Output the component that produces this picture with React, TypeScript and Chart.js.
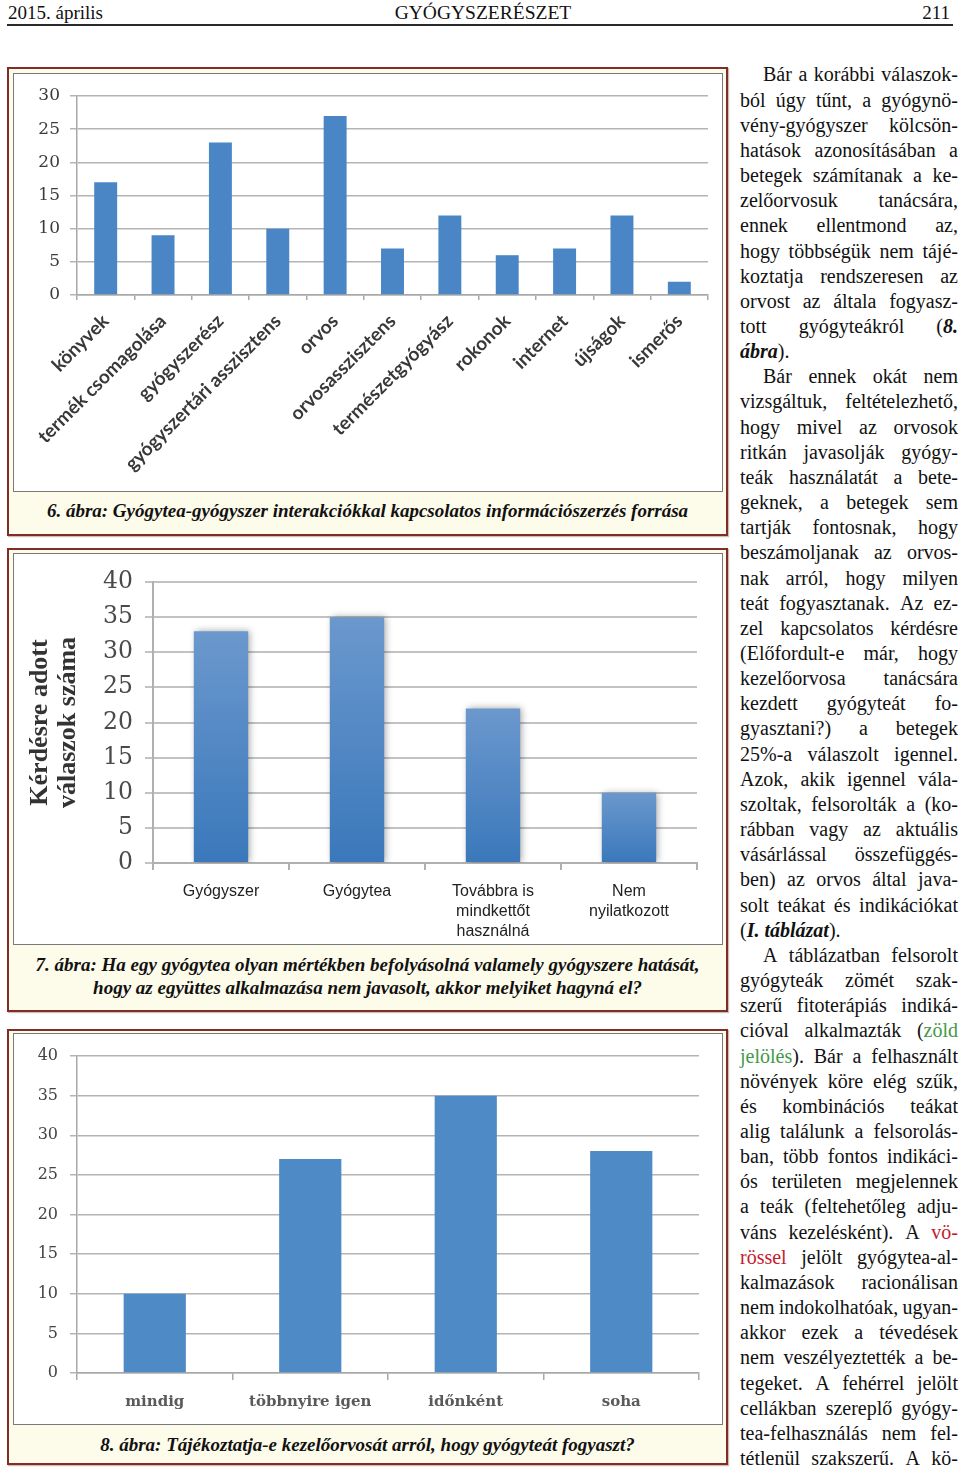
import React, { useEffect, useRef } from 'react';
import { Chart, registerables } from 'chart.js';
Chart.register(...registerables);

// ---------------- Data ----------------
const fig6Categories = [
  'könyvek',
  'termék csomagolása',
  'gyógyszerész',
  'gyógyszertári asszisztens',
  'orvos',
  'orvosasszisztens',
  'természetgyógyász',
  'rokonok',
  'internet',
  'újságok',
  'ismerős',
];
const fig6Values = [17, 9, 23, 10, 27, 7, 12, 6, 7, 12, 2];
const fig6Max = 30;
const fig6Step = 5;

const fig7Categories = [
  ['Gyógyszer'],
  ['Gyógytea'],
  ['Továbbra is', 'mindkettőt', 'használná'],
  ['Nem', 'nyilatkozott'],
];
const fig7Values = [33, 35, 22, 10];
const fig7Max = 40;
const fig7Step = 5;
const fig7AxisTitle = ['Kérdésre adott', 'válaszok száma'];

const fig8Categories = ['mindig', 'többnyire igen', 'időnként', 'soha'];
const fig8Values = [10, 27, 35, 28];
const fig8Max = 40;
const fig8Step = 5;

const headerLeft = '2015. április';
const headerCenter = 'GYÓGYSZERÉSZET';
const headerRight = '211';

const caption6 = ['6. ábra: Gyógytea-gyógyszer interakciókkal kapcsolatos információszerzés forrása'];
const caption7 = [
  '7. ábra: Ha egy gyógytea olyan mértékben befolyásolná valamely gyógyszere hatását,',
  'hogy az együttes alkalmazása nem javasolt, akkor melyiket hagyná el?',
];
const caption8 = ['8. ábra: Tájékoztatja-e kezelőorvosát arról, hogy gyógyteát fogyaszt?'];

type BodyLine = { t: string; indent?: boolean; end?: boolean };
const bodyLines: BodyLine[] = [
  { t: 'Bár a korábbi válaszok-', indent: true },
  { t: 'ból úgy tűnt, a gyógynö-' },
  { t: 'vény-gyógyszer kölcsön-' },
  { t: 'hatások azonosításában a' },
  { t: 'betegek számítanak a ke-' },
  { t: 'zelőorvosuk tanácsára,' },
  { t: 'ennek ellentmond az,' },
  { t: 'hogy többségük nem tájé-' },
  { t: 'koztatja rendszeresen az' },
  { t: 'orvost az általa fogyasz-' },
  { t: 'tott gyógyteákról ([b:8.]' },
  { t: '[b:ábra]).', end: true },
  { t: 'Bár ennek okát nem', indent: true },
  { t: 'vizsgáltuk, feltételezhető,' },
  { t: 'hogy mivel az orvosok' },
  { t: 'ritkán javasolják gyógy-' },
  { t: 'teák használatát a bete-' },
  { t: 'geknek, a betegek sem' },
  { t: 'tartják fontosnak, hogy' },
  { t: 'beszámoljanak az orvos-' },
  { t: 'nak arról, hogy milyen' },
  { t: 'teát fogyasztanak. Az ez-' },
  { t: 'zel kapcsolatos kérdésre' },
  { t: '(Előfordult-e már, hogy' },
  { t: 'kezelőorvosa tanácsára' },
  { t: 'kezdett gyógyteát fo-' },
  { t: 'gyasztani?) a betegek' },
  { t: '25%-a válaszolt igennel.' },
  { t: 'Azok, akik igennel vála-' },
  { t: 'szoltak, felsorolták a (ko-' },
  { t: 'rábban vagy az aktuális' },
  { t: 'vásárlással összefüggés-' },
  { t: 'ben) az orvos által java-' },
  { t: 'solt teákat és indikációkat' },
  { t: '([b:I. táblázat]).', end: true },
  { t: 'A táblázatban felsorolt', indent: true },
  { t: 'gyógyteák zömét szak-' },
  { t: 'szerű fitoterápiás indiká-' },
  { t: 'cióval alkalmazták ([g:zöld]' },
  { t: '[g:jelölés]). Bár a felhasznált' },
  { t: 'növények köre elég szűk,' },
  { t: 'és kombinációs teákat' },
  { t: 'alig találunk a felsorolás-' },
  { t: 'ban, több fontos indikáci-' },
  { t: 'ós területen megjelennek' },
  { t: 'a teák (feltehetőleg adju-' },
  { t: 'váns kezelésként). A [r:vö-]' },
  { t: '[r:rössel] jelölt gyógytea-al-' },
  { t: 'kalmazások racionálisan' },
  { t: 'nem indokolhatóak, ugyan-' },
  { t: 'akkor ezek a tévedések' },
  { t: 'nem veszélyeztették a be-' },
  { t: 'tegeket. A fehérrel jelölt' },
  { t: 'cellákban szereplő gyógy-' },
  { t: 'tea-felhasználás nem fel-' },
  { t: 'tétlenül szakszerű. A kö-' },
];

// ---------------- Helpers ----------------
type Piece = { t: string; s: string };
function parseLine(s: string): Piece[][] {
  const segs: Piece[] = [];
  const re = /\[(b|g|r):([^\]]*)\]/g;
  let last = 0;
  let m: RegExpExecArray | null;
  while ((m = re.exec(s))) {
    if (m.index > last) segs.push({ t: s.slice(last, m.index), s: '' });
    segs.push({ t: m[2], s: m[1] });
    last = re.lastIndex;
  }
  if (last < s.length) segs.push({ t: s.slice(last), s: '' });
  const words: Piece[][] = [[]];
  for (const seg of segs) {
    const parts = seg.t.split(' ');
    parts.forEach((p, i) => {
      if (i > 0) words.push([]);
      if (p) words[words.length - 1].push({ t: p, s: seg.s });
    });
  }
  return words.filter((w) => w.length > 0);
}

function pieceStyle(s: string): React.CSSProperties {
  if (s === 'b') return { fontWeight: 'bold', fontStyle: 'italic' };
  if (s === 'g') return { color: '#3f9a48' };
  if (s === 'r') return { color: '#c41a2e' };
  return {};
}

function ChartCanvas({ left, top, width, height, build }: { left: number; top: number; width: number; height: number; build: () => any }) {
  const ref = useRef<HTMLCanvasElement>(null);
  useEffect(() => {
    const chart = new Chart(ref.current as HTMLCanvasElement, build());
    return () => chart.destroy();
  }, []);
  return (
    <canvas
      ref={ref}
      width={width}
      height={height}
      style={{ position: 'absolute', left, top, width, height, display: 'block' }}
    />
  );
}

function Frame({ top, height, innerTop, innerHeight, captionTop, caption, children }: any) {
  return (
    <>
      <div
        style={{
          position: 'absolute',
          left: 7,
          top,
          width: 721,
          height,
          boxSizing: 'border-box',
          border: '2px solid #7f2d26',
          background: '#fdfbea',
          boxShadow: '1px 1px 1px rgba(120,60,50,0.35)',
        }}
      />
      <div
        style={{
          position: 'absolute',
          left: 13,
          top: innerTop,
          width: 710,
          height: innerHeight,
          boxSizing: 'border-box',
          border: '1px solid #7a7a7a',
          background: '#ffffff',
        }}
      />
      {children}
      <div
        style={{
          position: 'absolute',
          left: 7,
          top: captionTop,
          width: 721,
          textAlign: 'center',
          fontFamily: "'Liberation Serif', serif",
          fontWeight: 'bold',
          fontStyle: 'italic',
          fontSize: 19,
          lineHeight: '23px',
          color: '#111',
          whiteSpace: 'nowrap',
        }}
      >
        {caption.map((c: string, i: number) => (
          <div key={i}>{c}</div>
        ))}
      </div>
    </>
  );
}

const gridGray = '#b4b4b4';

function buildFig6() {
  return {
    type: 'bar',
    data: {
      labels: fig6Categories,
      datasets: [
        {
          data: fig6Values,
          backgroundColor: '#4a86c6',
          borderWidth: 0,
          barPercentage: 0.4,
          categoryPercentage: 1,
        },
      ],
    },
    options: {
      animation: false,
      responsive: false,
      maintainAspectRatio: false,
      layout: { padding: { left: 0, right: 14, top: 22, bottom: 0 } },
      plugins: { legend: { display: false }, tooltip: { enabled: false } },
      scales: {
        x: {
          grid: { drawOnChartArea: false, drawTicks: true, tickLength: 5, color: '#a8a8a8', lineWidth: 1.5 },
          border: { color: '#a8a8a8', width: 1.5 },
          ticks: {
            autoSkip: false,
            maxRotation: 45,
            minRotation: 45,
            padding: 10,
            color: '#383838',
            font: { family: "'Lato'", size: 19, weight: 'bold' },
          },
          afterFit: (s: any) => {
            s.height = 196;
          },
        },
        y: {
          min: 0,
          max: fig6Max,
          ticks: { stepSize: fig6Step, padding: 10, color: '#3c3c3c', font: { family: "'DejaVu Serif'", size: 17 } },
          grid: { color: gridGray, lineWidth: 1.5, tickLength: 7 },
          border: { color: '#a8a8a8', width: 1.5 },
          afterFit: (s: any) => {
            s.width = 63;
          },
        },
      },
    },
  };
}

const shadowPlugin = {
  id: 'barShadow',
  beforeDatasetsDraw(chart: any) {
    const c = chart.ctx;
    c.save();
    c.shadowColor = 'rgba(0,0,0,0.35)';
    c.shadowBlur = 7;
    c.shadowOffsetX = 2;
    c.shadowOffsetY = 0;
  },
  afterDatasetsDraw(chart: any) {
    chart.ctx.restore();
  },
};

function buildFig7() {
  return {
    type: 'bar',
    data: {
      labels: fig7Categories,
      datasets: [
        {
          data: fig7Values,
          backgroundColor: (ctx: any) => {
            const chart = ctx.chart;
            const y = chart.scales && chart.scales.y;
            if (!y || ctx.raw == null) return '#4a82c0';
            const top = y.getPixelForValue(ctx.raw);
            const bottom = y.getPixelForValue(0);
            if (!isFinite(top) || !isFinite(bottom) || top === bottom) return '#4a82c0';
            const g = chart.ctx.createLinearGradient(0, top, 0, bottom);
            g.addColorStop(0, '#6b98cd');
            g.addColorStop(1, '#3a78bb');
            return g;
          },
          borderWidth: 0,
          barPercentage: 0.4,
          categoryPercentage: 1,
        },
      ],
    },
    plugins: [shadowPlugin],
    options: {
      animation: false,
      responsive: false,
      maintainAspectRatio: false,
      layout: { padding: { left: 0, right: 25, top: 28, bottom: 0 } },
      plugins: { legend: { display: false }, tooltip: { enabled: false } },
      scales: {
        x: {
          grid: { drawOnChartArea: false, drawTicks: true, tickLength: 7, color: '#b0b0b0', lineWidth: 2 },
          border: { color: '#b0b0b0', width: 2 },
          ticks: {
            autoSkip: false,
            maxRotation: 0,
            minRotation: 0,
            padding: 12,
            color: '#222222',
            font: { family: "'Liberation Sans'", size: 16, lineHeight: 1.25 },
          },
          afterFit: (s: any) => {
            s.height = 81;
          },
        },
        y: {
          min: 0,
          max: fig7Max,
          title: {
            display: true,
            text: fig7AxisTitle,
            color: '#333333',
            font: { family: "'Liberation Serif'", size: 26, weight: 'bold', lineHeight: 1.08 },
            padding: { top: 12, bottom: 0 },
          },
          ticks: { stepSize: fig7Step, padding: 12, color: '#4a4a4a', font: { family: "'DejaVu Serif'", size: 23.5 } },
          grid: { color: '#c2c2c2', lineWidth: 2, tickLength: 8 },
          border: { color: '#b0b0b0', width: 2 },
          afterFit: (s: any) => {
            s.width = 139;
          },
        },
      },
    },
  };
}

function buildFig8() {
  return {
    type: 'bar',
    data: {
      labels: fig8Categories,
      datasets: [
        {
          data: fig8Values,
          backgroundColor: '#4e8ac5',
          borderWidth: 0,
          barPercentage: 0.4,
          categoryPercentage: 1,
        },
      ],
    },
    options: {
      animation: false,
      responsive: false,
      maintainAspectRatio: false,
      layout: { padding: { left: 0, right: 23, top: 22, bottom: 0 } },
      plugins: { legend: { display: false }, tooltip: { enabled: false } },
      scales: {
        x: {
          grid: { drawOnChartArea: false, drawTicks: true, tickLength: 7, color: '#a8a8a8', lineWidth: 1.5 },
          border: { color: '#a8a8a8', width: 1.5 },
          ticks: {
            autoSkip: false,
            maxRotation: 0,
            minRotation: 0,
            padding: 13,
            color: '#5a5a5a',
            font: { family: "'DejaVu Serif'", size: 15, weight: 'bold' },
          },
          afterFit: (s: any) => {
            s.height = 51;
          },
        },
        y: {
          min: 0,
          max: fig8Max,
          ticks: { stepSize: fig8Step, padding: 12, color: '#444444', font: { family: "'DejaVu Serif'", size: 16 } },
          grid: { color: gridGray, lineWidth: 1.5, tickLength: 7 },
          border: { color: '#a8a8a8', width: 1.5 },
          afterFit: (s: any) => {
            s.width = 63;
          },
        },
      },
    },
  };
}

const LH = 25.164;

function BodyText() {
  return (
    <div
      style={{
        position: 'absolute',
        left: 740,
        top: 75 - LH / 2,
        width: 218,
        fontFamily: "'Liberation Serif', serif",
        fontSize: 20,
        color: '#111',
      }}
    >
      {bodyLines.map((ln, i) => {
        const words = parseLine(ln.t);
        const renderWord = (w: Piece[], k: number) => (
          <span key={k} style={{ whiteSpace: 'nowrap' }}>
            {w.map((p, j) => (
              <span key={j} style={pieceStyle(p.s)}>
                {p.t}
              </span>
            ))}
          </span>
        );
        if (ln.end) {
          return (
            <div key={i} style={{ height: LH, lineHeight: LH + 'px', whiteSpace: 'nowrap', paddingLeft: ln.indent ? 23 : 0 }}>
              {words.map((w, k) => (
                <React.Fragment key={k}>
                  {k > 0 ? ' ' : ''}
                  {renderWord(w, k)}
                </React.Fragment>
              ))}
            </div>
          );
        }
        return (
          <div
            key={i}
            style={{
              display: 'flex',
              justifyContent: 'space-between',
              height: LH,
              lineHeight: LH + 'px',
              whiteSpace: 'nowrap',
              paddingLeft: ln.indent ? 23 : 0,
              boxSizing: 'border-box',
            }}
          >
            {words.map((w, k) => renderWord(w, k))}
          </div>
        );
      })}
    </div>
  );
}

export default function App() {
  return (
    <div
      style={{
        position: 'absolute',
        left: 0,
        top: 0,
        width: 960,
        height: 1470,
        background: '#ffffff',
        overflow: 'hidden',
        fontFamily: "'Liberation Serif', serif",
      }}
    >
      {/* header */}
      <div style={{ position: 'absolute', left: 8, top: 2, fontSize: 19, lineHeight: '22px', color: '#111' }}>{headerLeft}</div>
      <div style={{ position: 'absolute', left: 0, width: 966, top: 2, textAlign: 'center', fontSize: 19.5, lineHeight: '22px', color: '#111' }}>
        {headerCenter}
      </div>
      <div style={{ position: 'absolute', right: 10, top: 2, fontSize: 19, lineHeight: '22px', color: '#111' }}>{headerRight}</div>
      <div style={{ position: 'absolute', left: 7, top: 24, width: 946, height: 2, background: '#2a2a2a' }} />

      {/* figure 6 */}
      <Frame top={67} height={469} innerTop={73} innerHeight={419} captionTop={499} caption={caption6}>
        <ChartCanvas left={14} top={74} width={708} height={417} build={buildFig6} />
      </Frame>

      {/* figure 7 */}
      <Frame top={548} height={464} innerTop={553} innerHeight={392} captionTop={953} caption={caption7}>
        <ChartCanvas left={14} top={554} width={708} height={390} build={buildFig7} />
      </Frame>

      {/* figure 8 */}
      <Frame top={1029} height={436} innerTop={1033} innerHeight={392} captionTop={1433} caption={caption8}>
        <ChartCanvas left={14} top={1034} width={708} height={390} build={buildFig8} />
      </Frame>

      <BodyText />
    </div>
  );
}
